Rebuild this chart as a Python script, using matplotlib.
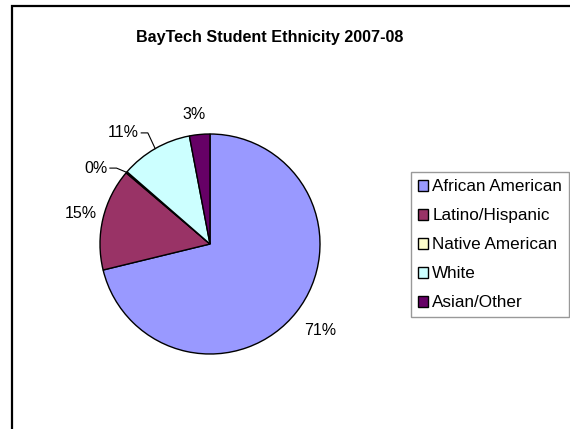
import matplotlib
matplotlib.use('Agg')
import matplotlib.pyplot as plt
import numpy as np
from matplotlib.patches import Rectangle

plt.rcParams['font.family'] = ['Liberation Sans', 'DejaVu Sans']

# data (percent of students)
groups = ['African American', 'Latino/Hispanic', 'Native American', 'White', 'Asian/Other']
shares = [71.2, 15.0, 0.2, 10.6, 3.0]
colors = ['#9999FF', '#993366', '#FFFFCC', '#CCFFFF', '#660066']
title = 'BayTech Student Ethnicity 2007-08'

W, H = 570, 429
fig = plt.figure(figsize=(W / 100, H / 100), dpi=100)

# outer chart border (runs off the right and bottom)
fig.patches.append(Rectangle((12 / W, -0.1), 1.2, 1 - 6 / H + 0.1,
                             transform=fig.transFigure, fill=False,
                             edgecolor='black', linewidth=1.6))

fig.text(270 / W, 1 - 37.5 / H, title, ha='center', va='center',
         fontsize=11.6, fontweight='bold')

# pie: centre (210, 244) px, radius 110 px
ax = fig.add_axes([100 / W, (H - 354) / H, 220 / W, 220 / H])
wedges, _ = ax.pie(shares, colors=colors, startangle=90, counterclock=False,
                   wedgeprops=dict(edgecolor='black', linewidth=1.0))
ax.set_xlim(-1, 1)
ax.set_ylim(-1, 1)
ax.axis('off')

# label radius per wedge; None -> label with leader line
label_r = [1.27, 1.21, None, None, 1.18]
leader_text = {2: (-0.93, 0.69), 3: (-0.645, 1.01)}

for i, w in enumerate(wedges):
    mid = np.radians((w.theta1 + w.theta2) / 2)
    txt = '%d%%' % round(shares[i])
    if label_r[i] is not None:
        r = label_r[i]
        dx = -0.03 if i == 4 else 0
        ax.text(r * np.cos(mid) + dx, r * np.sin(mid), txt, ha='center', va='center',
                fontsize=11.5, clip_on=False)
    else:
        tx, ty = leader_text[i]
        ex, ey = np.cos(mid), np.sin(mid)
        ax.text(tx, ty, txt, ha='right', va='center', fontsize=11.5, clip_on=False)
        ax.plot([tx + 0.02, tx + 0.08, ex], [ty, ty, ey], color='black',
                linewidth=0.8, clip_on=False)

leg = fig.legend(wedges, groups, loc='upper left',
                 bbox_to_anchor=(411 / W, 1 - 172 / H), frameon=True,
                 fancybox=False, edgecolor='#808080', fontsize=12.3,
                 handlelength=0.6, handleheight=0.6, handletextpad=0.22,
                 labelspacing=0.82, borderpad=0.42, borderaxespad=0)
leg.get_frame().set_linewidth(1.0)

fig.savefig('out.png', dpi=100)
